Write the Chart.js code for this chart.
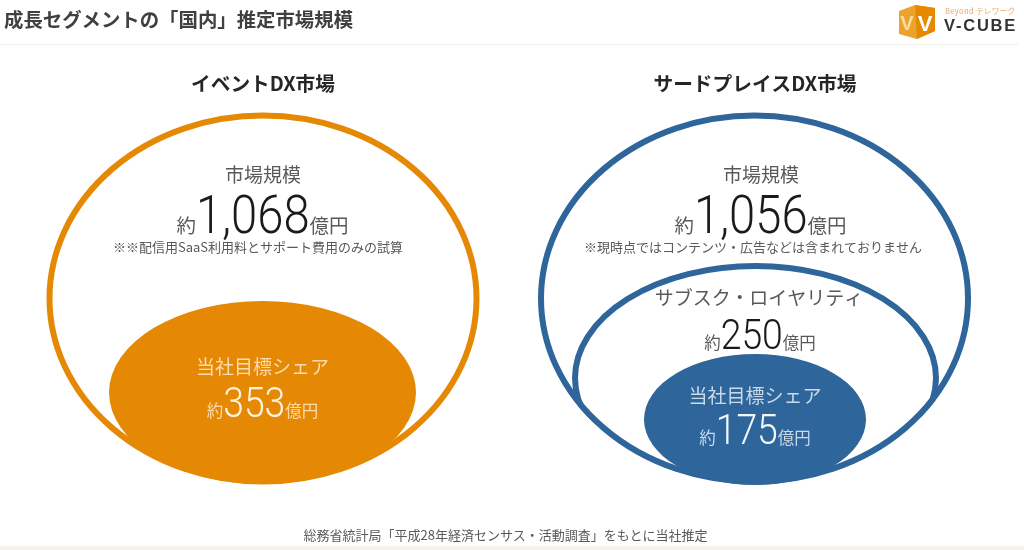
<!DOCTYPE html>
<html lang="ja">
<head>
<meta charset="utf-8">
<title>成長セグメントの「国内」推定市場規模</title>
<script src="https://cdn.jsdelivr.net/npm/chart.js@4/dist/chart.umd.min.js"></script>
<style>
  html, body { margin: 0; padding: 0; background: #fff; }
  body { width: 1024px; height: 550px; position: relative; overflow: hidden; font-family: "Noto Sans CJK JP", sans-serif; }
  canvas { position: absolute; left: 0; top: 0; }
  h1 { position: absolute; left: 4px; top: 5px; margin: 0; font-size: 19.4px; line-height: 28px; font-weight: 700; color: #404040; white-space: nowrap; }
  .rule { position: absolute; left: 0; top: 44px; width: 1018px; height: 1px; background: #efefe8; }
  .band { position: absolute; left: 0; top: 546px; width: 1024px; height: 4px; background: #f3f3ec; }
  .source { position: absolute; left: 0; width: 1011px; top: 526px; text-align: center; font-size: 13px; line-height: 18px; color: #595959; white-space: nowrap; }
  .logo { position: absolute; left: 897px; top: 3px; width: 124px; height: 38px; }
  .logo svg { position: absolute; left: 0; top: 0; }
  .beyond { position: absolute; left: 48px; top: 2px; font-size: 7.6px; line-height: 11px; color: #e9a66a; white-space: nowrap; letter-spacing: .3px; }
  .brand { position: absolute; left: 47px; top: 12px; font: 700 16.5px/20px "Liberation Sans", sans-serif; letter-spacing: 1.8px; color: #333; white-space: nowrap; }
</style>
</head>
<body>
<canvas id="chart" width="1024" height="550"></canvas>
<h1>成長セグメントの「国内」推定市場規模</h1>
<div class="rule"></div>
<div class="logo">
  <svg width="42" height="38" viewBox="0 0 42 38">
    <polygon points="2,8 18,2 38,5 38,28 20,36 2,31" fill="#eda22c"/>
    <polygon points="18,2 38,5 38,28 20,36" fill="#e58a00"/>
    <text x="10" y="27" text-anchor="middle" font-family="Liberation Sans" font-weight="700" font-size="20" fill="#f9dba6">V</text>
    <text x="28" y="28" text-anchor="middle" font-family="Liberation Sans" font-weight="700" font-size="22" fill="#fff">V</text>
  </svg>
  <div class="beyond">Beyond テレワーク</div>
  <div class="brand">V-CUBE</div>
</div>
<div class="source">総務省統計局「平成28年経済センサス・活動調査」をもとに当社推定</div>
<div class="band"></div>
<script>
'use strict';

// ************************* DATA **********************************
const segments = ['イベントDX市場', 'サードプレイスDX市場'];
const marketSize = [1068, 1056];
const subscription = [null, 250];
const targetShare = [353, 175];
const marketNotes = ['※※配信用SaaS利用料とサポート費用のみの試算', '※現時点ではコンテンツ・広告などは含まれておりません'];

// ************************* LAYOUT (axis units match the 1024x550 page) ****
const ORANGE = '#e58905';
const BLUE = '#2e659b';
const NUM_FONT = 'Roboto';
const JP_FONT = '"Noto Sans CJK JP"';
const NUM_SQUEEZE = 0.89;

const orangeShapes = [
  { x: 263, y: 298.5, rx: 213.5, ry: 183 },
  { x: 262.5, y: 392.5, rx: 153.5, ry: 91.5 }
];
const blueShapes = [
  { x: 754.5, y: 298.5, rx: 213.5, ry: 183 },
  { x: 755.5, y: 378, rx: 180.5, ry: 112, insideFirst: true },
  { x: 755, y: 419.5, rx: 111, ry: 65.5 }
];

// ************************ HELPER FUNCTIONS ********************************
const drawLine = (ctx, text, x, y, font, color) => {
  ctx.font = font;
  ctx.fillStyle = color;
  ctx.textAlign = 'center';
  ctx.textBaseline = 'middle';
  ctx.fillText(text, x, y);
};

// 約 + number + 億円 on a shared baseline, centred on x
const drawAmount = (ctx, value, x, y, unitSize, numSize, unitColor, numColor) => {
  const unitFont = `${unitSize}px ${JP_FONT}`;
  const numFont = `300 ${numSize}px ${NUM_FONT}`;
  const number = value.toLocaleString('en-US');
  ctx.font = unitFont;
  const w1 = ctx.measureText('約').width;
  const w3 = ctx.measureText('億円').width;
  ctx.font = numFont;
  const w2 = ctx.measureText(number).width * NUM_SQUEEZE;
  const left = x - (w1 + w2 + w3) / 2;
  ctx.textAlign = 'left';
  ctx.textBaseline = 'alphabetic';
  ctx.font = unitFont;
  ctx.fillStyle = unitColor;
  ctx.fillText('約', left, y);
  ctx.fillText('億円', left + w1 + w2, y);
  ctx.save();
  ctx.translate(left + w1, y);
  ctx.scale(NUM_SQUEEZE, 1);
  ctx.font = numFont;
  ctx.fillStyle = numColor;
  ctx.fillText(number, 0, 0);
  ctx.restore();
};

// **************** ELLIPSE CONTROLLER *************************
class EllipseController extends Chart.BubbleController {
  draw() {
    const { ctx, scales } = this.chart;
    const dataset = this.getDataset();
    const tracePath = (shape, extra) => {
      const cx = scales.x.getPixelForValue(shape.x);
      const cy = scales.y.getPixelForValue(shape.y);
      const rx = Math.abs(scales.x.getPixelForValue(shape.x + shape.rx) - cx);
      const ry = Math.abs(scales.y.getPixelForValue(shape.y + shape.ry) - cy);
      ctx.beginPath();
      ctx.ellipse(cx, cy, rx + extra, ry + extra, 0, 0, Math.PI * 2);
    };
    dataset.data.forEach((shape, i) => {
      ctx.save();
      if (shape.insideFirst) {
        // the middle ring merges into the outer ring instead of crossing it
        tracePath(dataset.data[0], dataset.borderWidth / 2);
        ctx.clip();
      }
      tracePath(shape, 0);
      if (dataset.backgroundColor[i]) {
        ctx.fillStyle = dataset.backgroundColor[i];
        ctx.fill();
      } else {
        ctx.strokeStyle = dataset.borderColor;
        ctx.lineWidth = dataset.borderWidth;
        ctx.stroke();
      }
      ctx.restore();
    });
  }
}
EllipseController.id = 'ellipse';
EllipseController.defaults = Chart.BubbleController.defaults;
Chart.register(EllipseController);

// **************** LABELS *************************
const labelPlugin = {
  id: 'labels',
  afterDatasetsDraw(chart) {
    const { ctx, scales } = chart;
    const px = v => scales.x.getPixelForValue(v);
    const py = v => scales.y.getPixelForValue(v);
    const gray = '#595959';
    const black = '#1a1a1a';
    ctx.save();
    drawLine(ctx, segments[0], px(263), py(84), `700 19.7px ${JP_FONT}`, '#262626');
    drawLine(ctx, segments[1], px(755), py(84), `700 19.7px ${JP_FONT}`, '#262626');

    drawLine(ctx, '市場規模', px(263), py(175), `19px ${JP_FONT}`, gray);
    drawAmount(ctx, marketSize[0], px(262.5), py(233), 19.5, 53, gray, black);
    drawLine(ctx, marketNotes[0], px(258), py(247), `13px ${JP_FONT}`, gray);

    drawLine(ctx, '市場規模', px(761), py(175), `19px ${JP_FONT}`, gray);
    drawAmount(ctx, marketSize[1], px(760.5), py(233), 19.5, 53, gray, black);
    drawLine(ctx, marketNotes[1], px(753), py(247), `13px ${JP_FONT}`, gray);

    drawLine(ctx, 'サブスク・ロイヤリティ', px(759), py(298), `19px ${JP_FONT}`, gray);
    drawAmount(ctx, subscription[1], px(760), py(349), 16.5, 42, gray, black);

    drawLine(ctx, '当社目標シェア', px(262.5), py(367), `19px ${JP_FONT}`, '#fbdcb0');
    drawAmount(ctx, targetShare[0], px(262.5), py(417), 16.5, 42, '#fbdcb0', '#fff3e0');

    drawLine(ctx, '当社目標シェア', px(755), py(396), `19px ${JP_FONT}`, '#c9daea');
    drawAmount(ctx, targetShare[1], px(755), py(444), 16.5, 42, '#c9daea', '#f2f7fb');
    ctx.restore();
  }
};

// **************** EXECUTABLE CODE *************************
new Chart(document.getElementById('chart'), {
  type: 'ellipse',
  data: {
    datasets: [
      {
        label: segments[0],
        data: orangeShapes,
        backgroundColor: [null, ORANGE],
        borderColor: ORANGE,
        borderWidth: 6
      },
      {
        label: segments[1],
        data: blueShapes,
        backgroundColor: [null, null, BLUE],
        borderColor: BLUE,
        borderWidth: 6
      }
    ]
  },
  options: {
    responsive: false,
    animation: false,
    devicePixelRatio: 1,
    layout: { padding: 0, autoPadding: false },
    plugins: { legend: { display: false }, tooltip: { enabled: false } },
    scales: {
      x: { type: 'linear', min: 0, max: 1024, display: false },
      y: { type: 'linear', min: 0, max: 550, reverse: true, display: false }
    }
  },
  plugins: [labelPlugin]
});
</script>
</body>
</html>
